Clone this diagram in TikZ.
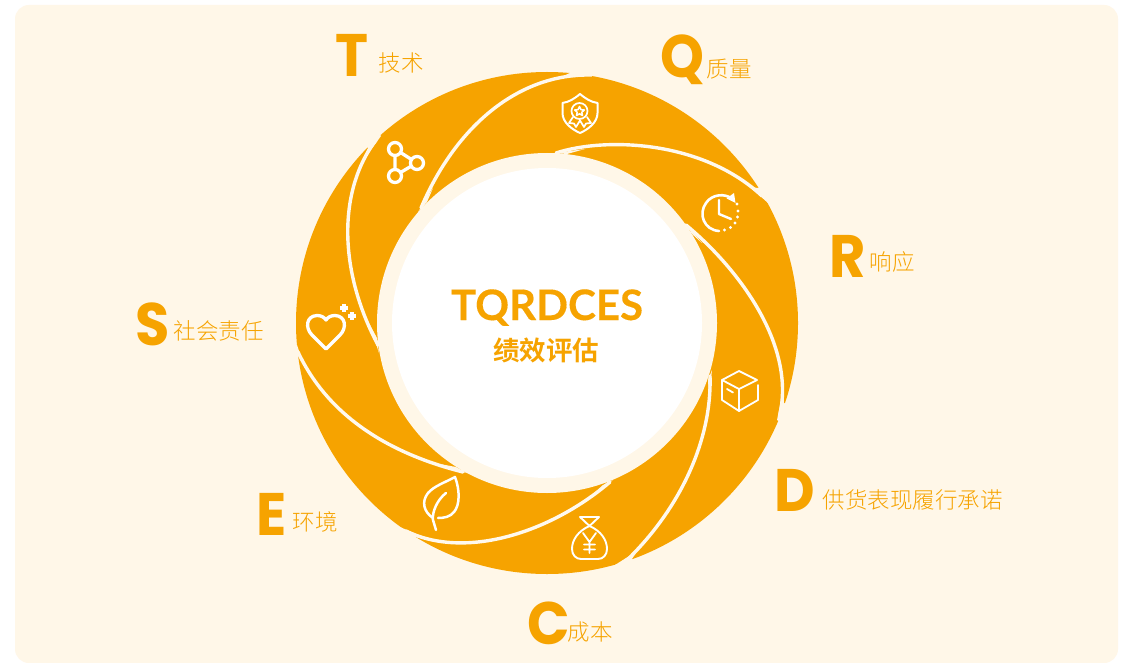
\documentclass[tikz,border=0pt]{standalone}
\usepackage{fontspec}
\setmainfont{Poppins}[BoldFont=* Bold]
\newfontfamily\bigfont{Poppins Bold}[FakeStretch=0.93]
\newfontfamily\midfont{Lato Bold}[FakeBold=0.25]
\newfontfamily\cjklight{Noto Sans CJK SC Light}
\newfontfamily\cjkbold{Noto Sans CJK SC Bold}
\definecolor{ringor}{HTML}{F6A300}
\definecolor{creamy}{HTML}{FFF7E8}
\definecolor{sepline}{HTML}{FFF9EE}
\tikzset{
  bigletter/.style={inner sep=0pt,anchor=base,text=ringor,font=\bigfont\fontsize{60}{60}\selectfont},
  cjklabel/.style={inner sep=0pt,text=ringor,font=\cjklight\fontsize{22.5}{22.5}\selectfont},
  sep/.style={draw=sepline,line width=3.4pt,line cap=round},
  wedge/.style={fill=creamy,draw=none},
  icon/.style={draw=white,line width=2pt,line cap=round,line join=round},
  iconthick/.style={draw=white,line width=3.3pt,line cap=round,line join=round}
}
\begin{document}
\begin{tikzpicture}[x=1pt,y=-1pt]
\useasboundingbox (0,0) rectangle (1126,663);
\fill[white] (0,0) rectangle (1126,663);
\fill[creamy,rounded corners=14pt] (15,5) rectangle (1118,663);
% ring
\fill[ringor] (547,323) circle[radius=251];
\fill[creamy] (547,323) circle[radius=170];
\fill[white] (547,323) circle[radius=155];
% separators
\draw[sep] (421,208) .. controls (455,128) and (515,77) .. (584,75);
\draw[sep] (556,153) .. controls (605,137) and (702,140) .. (762,196);
\draw[sep] (686,225) .. controls (740,270) and (795,345) .. (780,414);
\draw[sep] (710,376) .. controls (712,440) and (680,510) .. (624,563);
\draw[sep] (610,482) .. controls (550,533) and (465,560) .. (406,531);
\draw[sep] (463,472) .. controls (395,455) and (330,420) .. (298,352);
\draw[sep] (378,345) .. controls (338,270) and (338,190) .. (376,140);
% outer notches
\fill[wedge] (572,72) -- (580,66) -- (594,70) -- (592,76.5) -- (560,77.5) -- cycle;
\fill[wedge] (758,188) -- (768,184) -- (774,200) -- (768,203) -- (750,187) -- cycle;
\fill[wedge] (784,403) -- (792,406) -- (784,424) -- (777,420) -- (783,390) -- cycle;
\fill[wedge] (632,559) -- (636,567) -- (616,572) -- (615,565) -- (637,551) -- cycle;
\fill[wedge] (416,537) -- (412,544) -- (396,532) -- (400,527) -- (430,540) -- cycle;
\fill[wedge] (298,355) -- (292,356) -- (291,345) -- (297,345) -- (305,368) -- cycle;
\fill[wedge] (368,148) -- (362,142) -- (376,130) -- (381,136) -- (360,165) -- cycle;
% inner notches
\fill[wedge] (418,212) -- (427,202) -- (433,188) -- cycle;
\fill[wedge] (555,153) -- (567,154) -- (585,149) -- cycle;
\fill[wedge] (685,223) -- (692,234) -- (702,243) -- cycle;
\fill[wedge] (712,370) -- (708,380) -- (709,397) -- cycle;
\fill[wedge] (613,480) -- (603,485) -- (592,495) -- cycle;
\fill[wedge] (467,473) -- (456,467) -- (440,464) -- cycle;
\fill[wedge] (377,338) -- (379,353) -- (370,325) -- cycle;
% network icon
\draw[iconthick] (395,149) circle[radius=6.5] (417,163) circle[radius=6.5] (395,176) circle[radius=6.5];
\draw[iconthick] (395,155.5) -- (395,169.5) (400.5,152.5) -- (411.5,159.5) (400.5,172.5) -- (411.5,166);
% shield icon
\draw[icon] (580,94) .. controls (586,99) and (591,102) .. (597.5,103) -- (597.5,113) .. controls (597.5,122) and (589,129) .. (580,133) .. controls (571,129) and (562.5,122) .. (562.5,113) -- (562.5,103) .. controls (569,102) and (574,99) .. (580,94) -- cycle;
\draw[icon,line width=1.7pt] (579.5,111) circle[radius=8];
\draw[icon,line width=1.5pt] (579.5,106.5) -- (581,109.7) -- (584.3,110) -- (581.8,112.3) -- (582.5,115.5) -- (579.5,113.8) -- (576.5,115.5) -- (577.2,112.3) -- (574.7,110) -- (578,109.7) -- cycle;
\draw[icon,line width=1.7pt] (573,117) -- (569,123) -- (574,123.5) -- (576,127) -- (580,120.5) -- (584,127) -- (586,123.5) -- (591,123) -- (587,117);
% clock icon
\draw[icon,line width=2.6pt] (732.5,199) .. controls (725,193) and (712,194) .. (706,203) .. controls (698,214) and (704,230) .. (719,231);
\fill[white] (734,193) -- (735.5,203) -- (726.5,198.5) -- cycle;
\foreach \p in {(737,204),(738,211),(737.5,217),(735,223),(730.5,227.5),(724.5,230)}
  \fill[white] \p circle[radius=1.7];
\draw[icon,line width=2.4pt] (719,200) -- (719,214) -- (731,219);
% box icon
\draw[icon,line width=1.8pt] (739,371) -- (757,380) -- (739,389) -- (722,380) -- cycle;
\draw[icon,line width=1.8pt] (722,380) -- (722,400) -- (739,411) -- (758,400) -- (758,385);
\draw[icon,line width=1.8pt] (739,389) -- (739,411) (727,389) -- (733,392.5);
% money bag icon
\draw[icon,line width=1.9pt] (580,517) -- (599,517) -- (589.5,526) -- cycle;
\draw[icon,line width=1.9pt] (589.5,526) .. controls (578,531) and (572,540) .. (572,549) .. controls (572,555) and (576,559) .. (581,559) -- (598,559) .. controls (603,559) and (607,555) .. (607,549) .. controls (607,540) and (601,531) .. (589.5,526);
\draw[icon,line width=1.8pt] (583,533) -- (589.5,542) -- (596,533) (589.5,542) -- (589.5,553) (584,544.5) -- (595,544.5) (584,549.5) -- (595,549.5);
% leaf icon
\draw[icon,line width=2.5pt] (433,518) .. controls (424,512) and (421,502) .. (428,493) .. controls (434,486) and (446,482) .. (455,477) .. controls (460,490) and (460,505) .. (454,512) .. controls (450,517) and (444,518) .. (438,518);
\draw[icon,line width=2.5pt] (446,493) .. controls (437,500) and (432,512) .. (433,520) -- (436,530);
% heart icon
\draw[iconthick] (326,349) -- (312,335) .. controls (305,328) and (306,316) .. (317,315.5) .. controls (321,315.5) and (324,317) .. (326,320) .. controls (328,317) and (331,315.5) .. (335,315.5) .. controls (346,316) and (347,328) .. (340,335) -- cycle;
\draw[draw=white,line width=3.8pt] (340,308) -- (348,308) (344,304) -- (344,312) (348,316) -- (356,316) (352,312) -- (352,320);
% center text
\node[inner sep=0pt,anchor=base,text=ringor,font=\midfont\fontsize{42}{42}\selectfont] (title) at (547,320) {TQRDCES};
\node[inner sep=0pt,text=ringor,font=\cjkbold\fontsize{26.5}{26.5}\selectfont] (subtitle) at (546,350) {绩效评估};
% labels
\node[bigletter] (T) at (352,77) {T};
\node[cjklabel] (Tl) at (401,63) {技术};
\node[bigletter] (Q) at (682,78) {Q};
\node[cjklabel] (Ql) at (729,69) {质量};
\node[bigletter] (R) at (848,277) {R};
\node[cjklabel] (Rl) at (892,262) {响应};
\node[bigletter] (D) at (795,511) {D};
\node[cjklabel] (Dl) at (912.5,500) {供货表现履行承诺};
\node[bigletter] (C) at (548.5,644) {C};
\node[cjklabel] (Cl) at (590,632) {成本};
\node[bigletter] (E) at (271.5,535) {E};
\node[cjklabel] (El) at (315,522) {环境};
\node[bigletter] (S) at (152.5,345) {S};
\node[cjklabel] (Sl) at (218.5,331) {社会责任};
\end{tikzpicture}
\end{document}
